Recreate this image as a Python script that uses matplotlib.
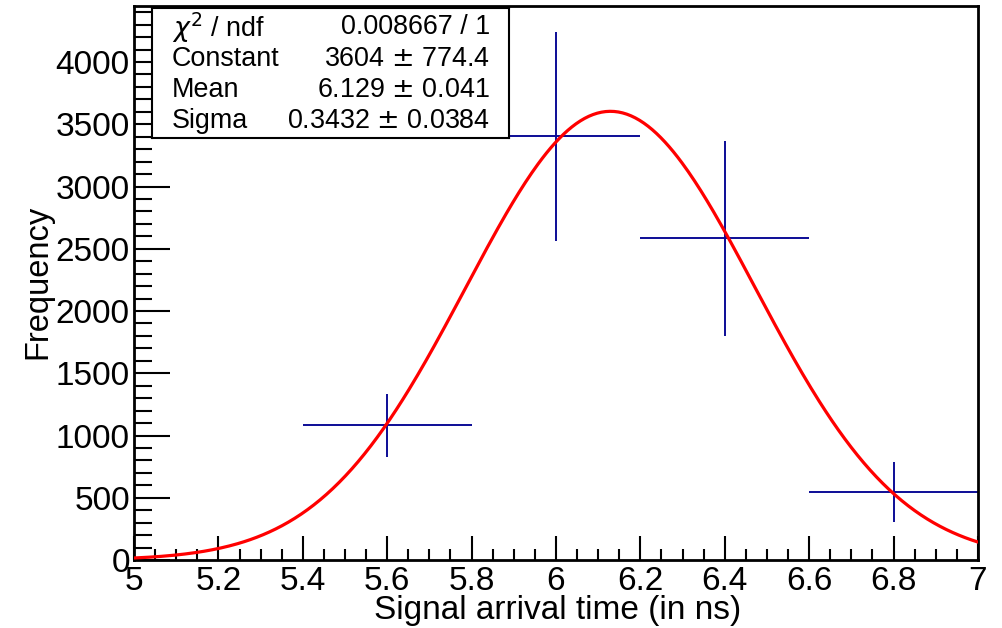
import numpy as np
import matplotlib.pyplot as plt
from matplotlib.ticker import MultipleLocator

plt.rcParams['font.family'] = ['Liberation Sans', 'DejaVu Sans']

# histogram points (bin centre, content, errors)
x_c = [5.6, 6.0, 6.4, 6.8]
y_v = [1084, 3405, 2586, 546]
x_err = [0.2, 0.2, 0.2, 0.2]
y_err = [253, 840, 783, 240]

# gaussian fit parameters
const = 3604
mean = 6.129
sigma = 0.3432

stats_names = [r'$\chi^2$ / ndf', 'Constant', 'Mean', 'Sigma']
stats_vals = ['0.008667 / 1', '3604 $\\pm$ 774.4', '6.129 $\\pm$ 0.041', '0.3432 $\\pm$ 0.0384']

fig = plt.figure(figsize=(10.03, 6.28), dpi=100)
ax = fig.add_axes([134 / 1003, 1 - 560 / 628, 844 / 1003, 554 / 628])

ax.errorbar(x_c, y_v, xerr=x_err, yerr=y_err, fmt='none', ecolor='#0c0c96',
            elinewidth=1.4, capsize=0, zorder=2)

xx = np.linspace(5, 7, 400)
ax.plot(xx, const * np.exp(-0.5 * ((xx - mean) / sigma) ** 2), color='#ff0000', lw=2.3, zorder=3)

ax.set_xlim(5, 7)
ax.set_ylim(0, 4450)
ax.xaxis.set_major_locator(MultipleLocator(0.2))
ax.xaxis.set_minor_locator(MultipleLocator(0.05))
ax.yaxis.set_major_locator(MultipleLocator(500))
ax.yaxis.set_minor_locator(MultipleLocator(100))
ax.set_xticks(np.arange(5, 7.01, 0.2))
ax.set_xticklabels(['5', '5.2', '5.4', '5.6', '5.8', '6', '6.2', '6.4', '6.6', '6.8', '7'])
ax.tick_params(which='both', direction='in', labelsize=24, width=1.5, top=False, right=False)
ax.tick_params(axis='y', which='major', length=26, pad=3)
ax.tick_params(axis='y', which='minor', length=13)
ax.tick_params(axis='x', which='major', length=17, pad=4)
ax.tick_params(axis='x', which='minor', length=8)
for s in ax.spines.values():
    s.set_linewidth(2)

ax.set_xlabel('Signal arrival time (in ns)', fontsize=24, ha='right', va='center')
ax.xaxis.set_label_coords((741 - 134) / 844, -(610 - 560) / 554)
ax.set_ylabel('Frequency', fontsize=23.5, va='center')
ax.yaxis.set_label_coords(-(134 - 38) / 844, (560 - 282) / 554)

# stats box
bx = fig.add_axes([152 / 1003, 1 - 138 / 628, 357 / 1003, 130 / 628], zorder=5)
bx.set_xlim(0, 1)
bx.set_ylim(0, 1)
bx.set_xticks([])
bx.set_yticks([])
for s in bx.spines.values():
    s.set_linewidth(1.5)
rows_y = [0.85, 0.61, 0.37, 0.13]
for name, val, yy in zip(stats_names, stats_vals, rows_y):
    bx.text(0.056, yy, name, fontsize=19.4, va='center', ha='left')
    bx.text(0.947, yy, val, fontsize=19.4, va='center', ha='right')

fig.savefig('out.png', dpi=100)
